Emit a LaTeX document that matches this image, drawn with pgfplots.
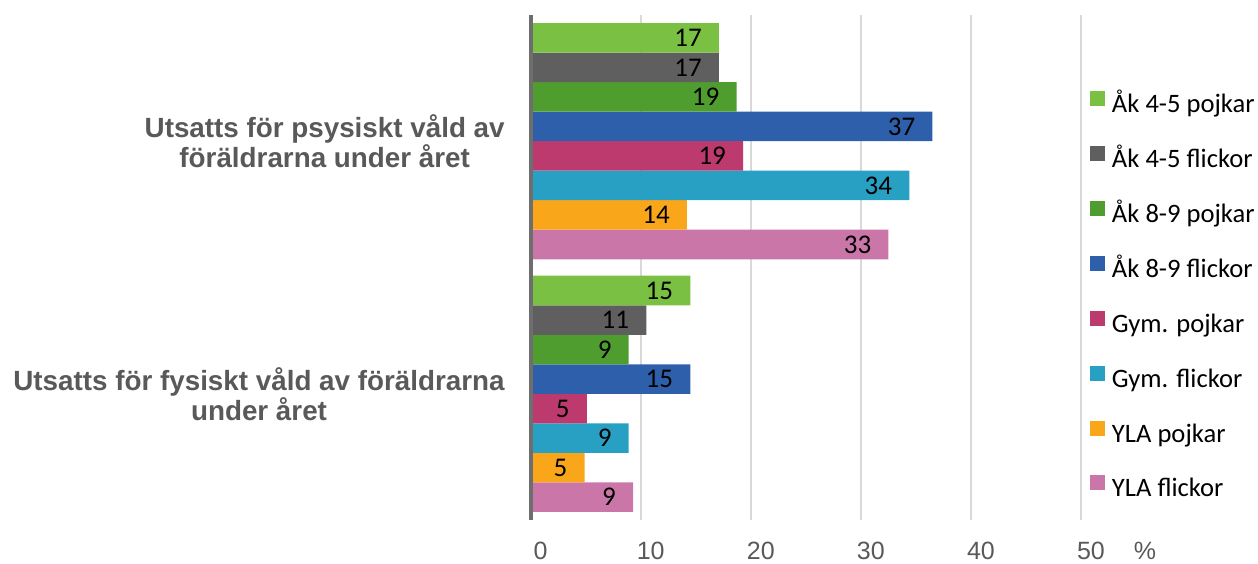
\documentclass[border=0pt]{standalone}
\usepackage{pgfplots}
\pgfplotsset{compat=1.18}
\usepackage{fontspec}
\setmainfont{Carlito}
\newfontfamily\arialfont{Liberation Sans}
\definecolor{c1}{HTML}{7AC143}
\definecolor{c2}{HTML}{5F5F5F}
\definecolor{c3}{HTML}{509D2F}
\definecolor{c4}{HTML}{2E5FAA}
\definecolor{c5}{HTML}{BC3A6E}
\definecolor{c6}{HTML}{27A0C4}
\definecolor{c7}{HTML}{F9A61A}
\definecolor{c8}{HTML}{CB76A8}
\definecolor{labgray}{HTML}{595959}
\definecolor{gridgray}{HTML}{D9D9D9}
\definecolor{axisgray}{HTML}{6E6E6E}
\begin{document}
\begin{tikzpicture}
\begin{axis}[
  name=ax,
  scale only axis, width=275.15pt, height=252.5pt,
  xbar=0pt, bar width=14.75pt,
  xmin=0, xmax=50, ymin=-0.5, ymax=1.5,
  ytick={0,1},
  yticklabels={{Utsatts för fysiskt våld av föräldrarna\\under året},{Utsatts för psysiskt våld av\\föräldrarna under året}},
  yticklabel style={align=center, font=\arialfont\bfseries\fontsize{13.9}{15}\selectfont, text=labgray, inner sep=0pt, xshift=-12.8pt},
  xtick={0,10,...,50},
  xticklabel style={font=\arialfont\fontsize{12.5}{14}\selectfont, text=labgray, inner sep=0pt, anchor=base, xshift=5pt, yshift=-19.5pt},
  /pgf/number format/assume math mode=true,
  major tick length=0pt,
  axis line style={draw=none},
  xmajorgrids, grid style={line width=1pt, color=gridgray},
  point meta=explicit symbolic,
  nodes near coords={\pgfplotspointmeta},
  every node near coord/.append style={anchor=east, inner sep=0pt, xshift=-8.4pt, font=\fontsize{13.5}{15}\selectfont, text=black},
  reverse legend,
  legend style={draw=none, fill=none, at={(1,0.4455)}, anchor=west, xshift=4.5pt, yshift=-1pt, inner sep=0pt, outer sep=0pt,
    font=\fontsize{13.3}{15}\selectfont, row sep=13.7pt, column sep=3.5pt,
    nodes={inner sep=0pt, text height=9.5pt, text depth=3pt}},
  legend cell align=left,
  legend image code/.code={\fill[#1] (0pt,0pt) rectangle (7.5pt,7.5pt);},
  clip=false,
]
\addplot[fill=c8, draw=none] table[x=x, y=y, meta=l] {
x y l
32.5 1 33
9.3 0 9
};
\addplot[fill=c7, draw=none] table[x=x, y=y, meta=l] {
x y l
14.2 1 14
4.9 0 5
};
\addplot[fill=c6, draw=none] table[x=x, y=y, meta=l] {
x y l
34.4 1 34
8.9 0 9
};
\addplot[fill=c5, draw=none] table[x=x, y=y, meta=l] {
x y l
19.3 1 19
5.1 0 5
};
\addplot[fill=c4, draw=none] table[x=x, y=y, meta=l] {
x y l
36.5 1 37
14.5 0 15
};
\addplot[fill=c3, draw=none] table[x=x, y=y, meta=l] {
x y l
18.7 1 19
8.9 0 9
};
\addplot[fill=c2, draw=none] table[x=x, y=y, meta=l] {
x y l
17.1 1 17
10.5 0 11
};
\addplot[fill=c1, draw=none] table[x=x, y=y, meta=l] {
x y l
17.1 1 17
14.5 0 15
};
\legend{YLA flickor, YLA pojkar, Gym. flickor, Gym. pojkar, Åk 8-9 flickor, Åk 8-9 pojkar, Åk 4-5 flickor, Åk 4-5 pojkar}
\draw[line width=2pt, color=axisgray] (rel axis cs:0,0) -- (rel axis cs:0,1);
\node[anchor=base, inner sep=0pt, font=\arialfont\fontsize{12.5}{14}\selectfont, text=labgray] at ([xshift=32pt, yshift=-19.5pt]rel axis cs:1,0) {\%};
\end{axis}
\path ([shift={(-265.35pt,-21.5pt)}]ax.south west) rectangle ([shift={(88.5pt,7.5pt)}]ax.north east);
\end{tikzpicture}
\end{document}
